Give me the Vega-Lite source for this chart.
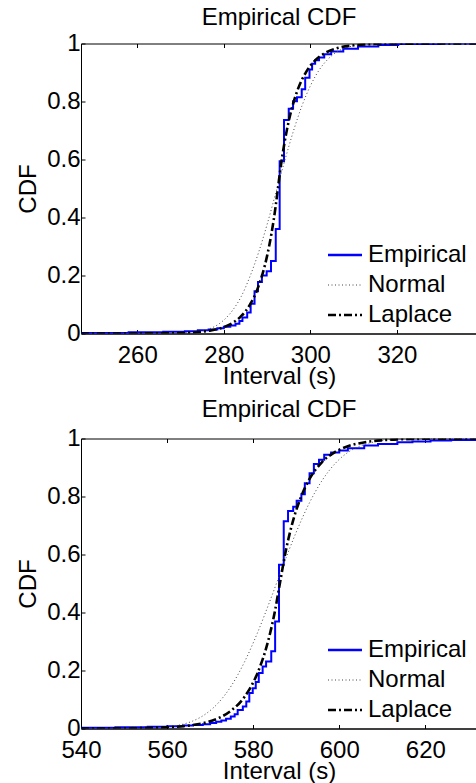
{
"$schema": "https://vega.github.io/schema/vega-lite/v6.json",
"padding": {"left": 16, "top": 4.5, "right": 0, "bottom": 0},
"background": "white",
"config": {
  "font": "Liberation Sans",
  "view": {"stroke": "black", "strokeWidth": 1},
  "axis": {"grid": false, "domainColor": "black", "tickColor": "black", "labelColor": "black", "titleColor": "black", "labelFontSize": 24, "titleFontSize": 24, "titleFontWeight": "normal", "tickSize": -4, "labelFlush": false, "labelOverlap": false, "labelBound": false, "labelFont": "Liberation Sans", "titleFont": "Liberation Sans"},
  "axisX": {"labelPadding": 14, "titlePadding": -3},
  "axisY": {"labelPadding": 5, "titlePadding": 6},
  "title": {"fontSize": 24, "fontWeight": "normal", "offset": 2, "color": "black", "font": "Liberation Sans"},
  "legend": {"title": null, "symbolType": "stroke", "symbolSize": 1156, "labelFontSize": 24, "labelColor": "black", "rowPadding": 6, "padding": 0, "labelOffset": 11, "labelLimit": 0, "labelFont": "Liberation Sans"},
  "concat": {"spacing": 7}
},
"datasets": {
  "top": [
    {"x":247,"cdf":0.002,"series":"Empirical"},{"x":258,"cdf":0.004,"series":"Empirical"},{"x":266,"cdf":0.006,"series":"Empirical"},{"x":271,"cdf":0.008,"series":"Empirical"},{"x":274,"cdf":0.011,"series":"Empirical"},{"x":276.5,"cdf":0.014,"series":"Empirical"},{"x":278.5,"cdf":0.018,"series":"Empirical"},{"x":280,"cdf":0.023,"series":"Empirical"},{"x":281.5,"cdf":0.028,"series":"Empirical"},{"x":282.7,"cdf":0.034,"series":"Empirical"},{"x":283.6,"cdf":0.043,"series":"Empirical"},{"x":284.3,"cdf":0.055,"series":"Empirical"},{"x":285.4,"cdf":0.072,"series":"Empirical"},{"x":286.2,"cdf":0.103,"series":"Empirical"},{"x":287.1,"cdf":0.146,"series":"Empirical"},{"x":287.9,"cdf":0.178,"series":"Empirical"},{"x":288.8,"cdf":0.2,"series":"Empirical"},{"x":289.9,"cdf":0.215,"series":"Empirical"},{"x":290.9,"cdf":0.25,"series":"Empirical"},{"x":292,"cdf":0.36,"series":"Empirical"},{"x":292.9,"cdf":0.594,"series":"Empirical"},{"x":293.9,"cdf":0.736,"series":"Empirical"},{"x":295,"cdf":0.775,"series":"Empirical"},{"x":296,"cdf":0.801,"series":"Empirical"},{"x":296.9,"cdf":0.815,"series":"Empirical"},{"x":298,"cdf":0.842,"series":"Empirical"},{"x":298.8,"cdf":0.882,"series":"Empirical"},{"x":299.8,"cdf":0.91,"series":"Empirical"},{"x":300.4,"cdf":0.93,"series":"Empirical"},{"x":301.1,"cdf":0.942,"series":"Empirical"},{"x":302,"cdf":0.952,"series":"Empirical"},{"x":303.2,"cdf":0.963,"series":"Empirical"},{"x":304.8,"cdf":0.972,"series":"Empirical"},{"x":307.6,"cdf":0.982,"series":"Empirical"},{"x":311,"cdf":0.99,"series":"Empirical"},{"x":315.7,"cdf":0.995,"series":"Empirical"},{"x":320.3,"cdf":0.998,"series":"Empirical"},{"x":330,"cdf":1,"series":"Empirical"},{"x":338.5,"cdf":1,"series":"Empirical"},
    {"x":247,"cdf":0,"series":"Normal"},{"x":260,"cdf":0.00001,"series":"Normal"},{"x":265,"cdf":0.0001,"series":"Normal"},{"x":270,"cdf":0.0011,"series":"Normal"},{"x":273,"cdf":0.0041,"series":"Normal"},{"x":276,"cdf":0.0129,"series":"Normal"},{"x":278,"cdf":0.025,"series":"Normal"},{"x":280,"cdf":0.0463,"series":"Normal"},{"x":282,"cdf":0.0793,"series":"Normal"},{"x":284,"cdf":0.127,"series":"Normal"},{"x":286,"cdf":0.195,"series":"Normal"},{"x":288,"cdf":0.278,"series":"Normal"},{"x":290,"cdf":0.376,"series":"Normal"},{"x":292,"cdf":0.484,"series":"Normal"},{"x":294,"cdf":0.592,"series":"Normal"},{"x":296,"cdf":0.694,"series":"Normal"},{"x":298,"cdf":0.783,"series":"Normal"},{"x":300,"cdf":0.854,"series":"Normal"},{"x":302,"cdf":0.908,"series":"Normal"},{"x":304,"cdf":0.945,"series":"Normal"},{"x":306,"cdf":0.97,"series":"Normal"},{"x":308,"cdf":0.984,"series":"Normal"},{"x":310,"cdf":0.992,"series":"Normal"},{"x":313,"cdf":0.9977,"series":"Normal"},{"x":316,"cdf":0.9994,"series":"Normal"},{"x":320,"cdf":0.9999,"series":"Normal"},{"x":338.5,"cdf":1,"series":"Normal"},
    {"x":247,"cdf":0,"series":"Laplace"},{"x":260,"cdf":0.0002,"series":"Laplace"},{"x":265,"cdf":0.0005,"series":"Laplace"},{"x":270,"cdf":0.0018,"series":"Laplace"},{"x":274,"cdf":0.0049,"series":"Laplace"},{"x":277,"cdf":0.0104,"series":"Laplace"},{"x":280,"cdf":0.022,"series":"Laplace"},{"x":282,"cdf":0.0362,"series":"Laplace"},{"x":284,"cdf":0.0597,"series":"Laplace"},{"x":286,"cdf":0.0985,"series":"Laplace"},{"x":288,"cdf":0.1623,"series":"Laplace"},{"x":290,"cdf":0.2676,"series":"Laplace"},{"x":291,"cdf":0.3437,"series":"Laplace"},{"x":292,"cdf":0.4412,"series":"Laplace"},{"x":292.5,"cdf":0.5,"series":"Laplace"},{"x":293,"cdf":0.5588,"series":"Laplace"},{"x":294,"cdf":0.6563,"series":"Laplace"},{"x":295,"cdf":0.7324,"series":"Laplace"},{"x":297,"cdf":0.8377,"series":"Laplace"},{"x":299,"cdf":0.9015,"series":"Laplace"},{"x":301,"cdf":0.9403,"series":"Laplace"},{"x":303,"cdf":0.9638,"series":"Laplace"},{"x":306,"cdf":0.9829,"series":"Laplace"},{"x":310,"cdf":0.9937,"series":"Laplace"},{"x":315,"cdf":0.9982,"series":"Laplace"},{"x":320,"cdf":0.9995,"series":"Laplace"},{"x":338.5,"cdf":1,"series":"Laplace"}
  ],
  "bottom": [
    {"x":540,"cdf":0.003,"series":"Empirical"},{"x":548,"cdf":0.004,"series":"Empirical"},{"x":555.5,"cdf":0.006,"series":"Empirical"},{"x":560,"cdf":0.008,"series":"Empirical"},{"x":563.7,"cdf":0.01,"series":"Empirical"},{"x":566,"cdf":0.012,"series":"Empirical"},{"x":568.3,"cdf":0.015,"series":"Empirical"},{"x":570,"cdf":0.019,"series":"Empirical"},{"x":571.4,"cdf":0.023,"series":"Empirical"},{"x":572.6,"cdf":0.028,"series":"Empirical"},{"x":573.7,"cdf":0.034,"series":"Empirical"},{"x":574.8,"cdf":0.041,"series":"Empirical"},{"x":575.7,"cdf":0.049,"series":"Empirical"},{"x":576.4,"cdf":0.064,"series":"Empirical"},{"x":577.6,"cdf":0.076,"series":"Empirical"},{"x":578.4,"cdf":0.093,"series":"Empirical"},{"x":579.1,"cdf":0.122,"series":"Empirical"},{"x":579.9,"cdf":0.139,"series":"Empirical"},{"x":580.6,"cdf":0.16,"series":"Empirical"},{"x":581.3,"cdf":0.191,"series":"Empirical"},{"x":582.2,"cdf":0.214,"series":"Empirical"},{"x":583,"cdf":0.231,"series":"Empirical"},{"x":584.2,"cdf":0.266,"series":"Empirical"},{"x":585.1,"cdf":0.369,"series":"Empirical"},{"x":586,"cdf":0.565,"series":"Empirical"},{"x":587.1,"cdf":0.715,"series":"Empirical"},{"x":588.1,"cdf":0.75,"series":"Empirical"},{"x":589.3,"cdf":0.765,"series":"Empirical"},{"x":590.1,"cdf":0.785,"series":"Empirical"},{"x":591.2,"cdf":0.808,"series":"Empirical"},{"x":592,"cdf":0.846,"series":"Empirical"},{"x":593.1,"cdf":0.88,"series":"Empirical"},{"x":594.1,"cdf":0.912,"series":"Empirical"},{"x":595.3,"cdf":0.927,"series":"Empirical"},{"x":596.5,"cdf":0.944,"series":"Empirical"},{"x":598.1,"cdf":0.952,"series":"Empirical"},{"x":600,"cdf":0.959,"series":"Empirical"},{"x":602,"cdf":0.966,"series":"Empirical"},{"x":605.8,"cdf":0.976,"series":"Empirical"},{"x":609,"cdf":0.981,"series":"Empirical"},{"x":613.5,"cdf":0.987,"series":"Empirical"},{"x":617,"cdf":0.99,"series":"Empirical"},{"x":621.2,"cdf":0.993,"series":"Empirical"},{"x":626,"cdf":0.995,"series":"Empirical"},{"x":632,"cdf":0.997,"series":"Empirical"},
    {"x":540,"cdf":0,"series":"Normal"},{"x":545,"cdf":0.00003,"series":"Normal"},{"x":550,"cdf":0.0002,"series":"Normal"},{"x":555,"cdf":0.0012,"series":"Normal"},{"x":560,"cdf":0.0055,"series":"Normal"},{"x":563,"cdf":0.0125,"series":"Normal"},{"x":566,"cdf":0.026,"series":"Normal"},{"x":569,"cdf":0.0505,"series":"Normal"},{"x":572,"cdf":0.09,"series":"Normal"},{"x":575,"cdf":0.149,"series":"Normal"},{"x":578,"cdf":0.23,"series":"Normal"},{"x":581,"cdf":0.33,"series":"Normal"},{"x":584,"cdf":0.444,"series":"Normal"},{"x":587,"cdf":0.564,"series":"Normal"},{"x":590,"cdf":0.677,"series":"Normal"},{"x":593,"cdf":0.776,"series":"Normal"},{"x":596,"cdf":0.855,"series":"Normal"},{"x":599,"cdf":0.913,"series":"Normal"},{"x":602,"cdf":0.952,"series":"Normal"},{"x":605,"cdf":0.975,"series":"Normal"},{"x":608,"cdf":0.988,"series":"Normal"},{"x":611,"cdf":0.9948,"series":"Normal"},{"x":615,"cdf":0.9985,"series":"Normal"},{"x":620,"cdf":0.9997,"series":"Normal"},{"x":632,"cdf":1,"series":"Normal"},
    {"x":540,"cdf":0.0001,"series":"Laplace"},{"x":545,"cdf":0.0002,"series":"Laplace"},{"x":550,"cdf":0.0006,"series":"Laplace"},{"x":555,"cdf":0.0016,"series":"Laplace"},{"x":560,"cdf":0.0039,"series":"Laplace"},{"x":563,"cdf":0.0068,"series":"Laplace"},{"x":566,"cdf":0.0119,"series":"Laplace"},{"x":569,"cdf":0.0206,"series":"Laplace"},{"x":572,"cdf":0.0361,"series":"Laplace"},{"x":575,"cdf":0.063,"series":"Laplace"},{"x":578,"cdf":0.1094,"series":"Laplace"},{"x":581,"cdf":0.1909,"series":"Laplace"},{"x":583,"cdf":0.2763,"series":"Laplace"},{"x":585,"cdf":0.4004,"series":"Laplace"},{"x":586.2,"cdf":0.5,"series":"Laplace"},{"x":587.5,"cdf":0.607,"series":"Laplace"},{"x":589,"cdf":0.7024,"series":"Laplace"},{"x":591,"cdf":0.7945,"series":"Laplace"},{"x":593,"cdf":0.858,"series":"Laplace"},{"x":596,"cdf":0.9186,"series":"Laplace"},{"x":599,"cdf":0.9533,"series":"Laplace"},{"x":602,"cdf":0.9732,"series":"Laplace"},{"x":606,"cdf":0.9872,"series":"Laplace"},{"x":610,"cdf":0.9939,"series":"Laplace"},{"x":615,"cdf":0.9976,"series":"Laplace"},{"x":620,"cdf":0.9991,"series":"Laplace"},{"x":632,"cdf":0.9999,"series":"Laplace"}
  ]
},
"resolve": {"scale": {"color": "independent", "strokeDash": "independent"}},
"vconcat": [
  {
    "title": {"text": "Empirical CDF", "offset": 2},
    "width": 396, "height": 290,
    "data": {"name": "top"},
    "layer": [
      {
        "transform": [{"filter": "datum.series === 'Empirical'"}],
        "mark": {"type": "line", "interpolate": "step-after", "clip": true, "strokeWidth": 2},
        "encoding": {
          "x": {"field": "x", "type": "quantitative", "scale": {"domain": [247, 338.5], "nice": false, "zero": false}, "axis": {"values": [260, 280, 300, 320], "title": "Interval (s)"}},
          "y": {"field": "cdf", "type": "quantitative", "scale": {"domain": [0, 1], "nice": false}, "axis": {"values": [0, 0.2, 0.4, 0.6, 0.8, 1], "format": "~g", "title": "CDF"}},
          "color": {"field": "series", "type": "nominal", "scale": {"domain": ["Empirical", "Normal", "Laplace"], "range": ["#0000ff", "#444444", "#000000"]}, "legend": {"orient": "none", "legendX": 252, "legendY": 199.5, "rowPadding": 6, "encode": {"symbols": {"update": {"strokeWidth": {"signal": "datum.value === 'Normal' ? 1 : 2.6"}}}}}},
          "strokeDash": {"field": "series", "type": "nominal", "scale": {"domain": ["Empirical", "Normal", "Laplace"], "range": [[1, 0], [1, 2.5], [8, 3, 2, 3]]}, "legend": {"orient": "none", "legendX": 252, "legendY": 199.5, "rowPadding": 6, "encode": {"symbols": {"update": {"strokeWidth": {"signal": "datum.value === 'Normal' ? 1 : 2.6"}}}}}}
        }
      },
      {
        "transform": [{"filter": "datum.series === 'Normal'"}],
        "mark": {"type": "line", "interpolate": "monotone", "clip": true, "strokeWidth": 1},
        "encoding": {
          "x": {"field": "x", "type": "quantitative", "axis": {"orient": "top", "values": [260, 280, 300, 320], "labels": false, "domain": false, "title": null}},
          "y": {"field": "cdf", "type": "quantitative"},
          "color": {"field": "series", "type": "nominal", "legend": {"orient": "none", "legendX": 252, "legendY": 199.5, "rowPadding": 6, "encode": {"symbols": {"update": {"strokeWidth": {"signal": "datum.value === 'Normal' ? 1 : 2.6"}}}}}},
          "strokeDash": {"field": "series", "type": "nominal", "legend": {"orient": "none", "legendX": 252, "legendY": 199.5, "rowPadding": 6, "encode": {"symbols": {"update": {"strokeWidth": {"signal": "datum.value === 'Normal' ? 1 : 2.6"}}}}}}
        }
      },
      {
        "transform": [{"filter": "datum.series === 'Laplace'"}],
        "mark": {"type": "line", "interpolate": "monotone", "clip": true, "strokeWidth": 2.6},
        "encoding": {
          "x": {"field": "x", "type": "quantitative", "axis": null},
          "y": {"field": "cdf", "type": "quantitative"},
          "color": {"field": "series", "type": "nominal", "legend": {"orient": "none", "legendX": 252, "legendY": 199.5, "rowPadding": 6, "encode": {"symbols": {"update": {"strokeWidth": {"signal": "datum.value === 'Normal' ? 1 : 2.6"}}}}}},
          "strokeDash": {"field": "series", "type": "nominal", "legend": {"orient": "none", "legendX": 252, "legendY": 199.5, "rowPadding": 6, "encode": {"symbols": {"update": {"strokeWidth": {"signal": "datum.value === 'Normal' ? 1 : 2.6"}}}}}}
        }
      }
    ],
    "resolve": {"axis": {"x": "independent"}}
  },
  {
    "title": {"text": "Empirical CDF", "offset": 5},
    "width": 396, "height": 290,
    "data": {"name": "bottom"},
    "layer": [
      {
        "transform": [{"filter": "datum.series === 'Empirical'"}],
        "mark": {"type": "line", "interpolate": "step-after", "clip": true, "strokeWidth": 2},
        "encoding": {
          "x": {"field": "x", "type": "quantitative", "scale": {"domain": [540, 632], "nice": false, "zero": false}, "axis": {"values": [540, 560, 580, 600, 620], "title": "Interval (s)"}},
          "y": {"field": "cdf", "type": "quantitative", "scale": {"domain": [0, 1], "nice": false}, "axis": {"values": [0, 0.2, 0.4, 0.6, 0.8, 1], "format": "~g", "title": "CDF"}},
          "color": {"field": "series", "type": "nominal", "scale": {"domain": ["Empirical", "Normal", "Laplace"], "range": ["#0000ff", "#444444", "#000000"]}, "legend": {"orient": "none", "legendX": 252, "legendY": 199.5, "rowPadding": 6, "encode": {"symbols": {"update": {"strokeWidth": {"signal": "datum.value === 'Normal' ? 1 : 2.6"}}}}}},
          "strokeDash": {"field": "series", "type": "nominal", "scale": {"domain": ["Empirical", "Normal", "Laplace"], "range": [[1, 0], [1, 2.5], [8, 3, 2, 3]]}, "legend": {"orient": "none", "legendX": 252, "legendY": 199.5, "rowPadding": 6, "encode": {"symbols": {"update": {"strokeWidth": {"signal": "datum.value === 'Normal' ? 1 : 2.6"}}}}}}
        }
      },
      {
        "transform": [{"filter": "datum.series === 'Normal'"}],
        "mark": {"type": "line", "interpolate": "monotone", "clip": true, "strokeWidth": 1},
        "encoding": {
          "x": {"field": "x", "type": "quantitative", "axis": {"orient": "top", "values": [540, 560, 580, 600, 620], "labels": false, "domain": false, "title": null}},
          "y": {"field": "cdf", "type": "quantitative"},
          "color": {"field": "series", "type": "nominal", "legend": {"orient": "none", "legendX": 252, "legendY": 199.5, "rowPadding": 6, "encode": {"symbols": {"update": {"strokeWidth": {"signal": "datum.value === 'Normal' ? 1 : 2.6"}}}}}},
          "strokeDash": {"field": "series", "type": "nominal", "legend": {"orient": "none", "legendX": 252, "legendY": 199.5, "rowPadding": 6, "encode": {"symbols": {"update": {"strokeWidth": {"signal": "datum.value === 'Normal' ? 1 : 2.6"}}}}}}
        }
      },
      {
        "transform": [{"filter": "datum.series === 'Laplace'"}],
        "mark": {"type": "line", "interpolate": "monotone", "clip": true, "strokeWidth": 2.6},
        "encoding": {
          "x": {"field": "x", "type": "quantitative", "axis": null},
          "y": {"field": "cdf", "type": "quantitative"},
          "color": {"field": "series", "type": "nominal", "legend": {"orient": "none", "legendX": 252, "legendY": 199.5, "rowPadding": 6, "encode": {"symbols": {"update": {"strokeWidth": {"signal": "datum.value === 'Normal' ? 1 : 2.6"}}}}}},
          "strokeDash": {"field": "series", "type": "nominal", "legend": {"orient": "none", "legendX": 252, "legendY": 199.5, "rowPadding": 6, "encode": {"symbols": {"update": {"strokeWidth": {"signal": "datum.value === 'Normal' ? 1 : 2.6"}}}}}}
        }
      }
    ],
    "resolve": {"axis": {"x": "independent"}}
  }
]
}
